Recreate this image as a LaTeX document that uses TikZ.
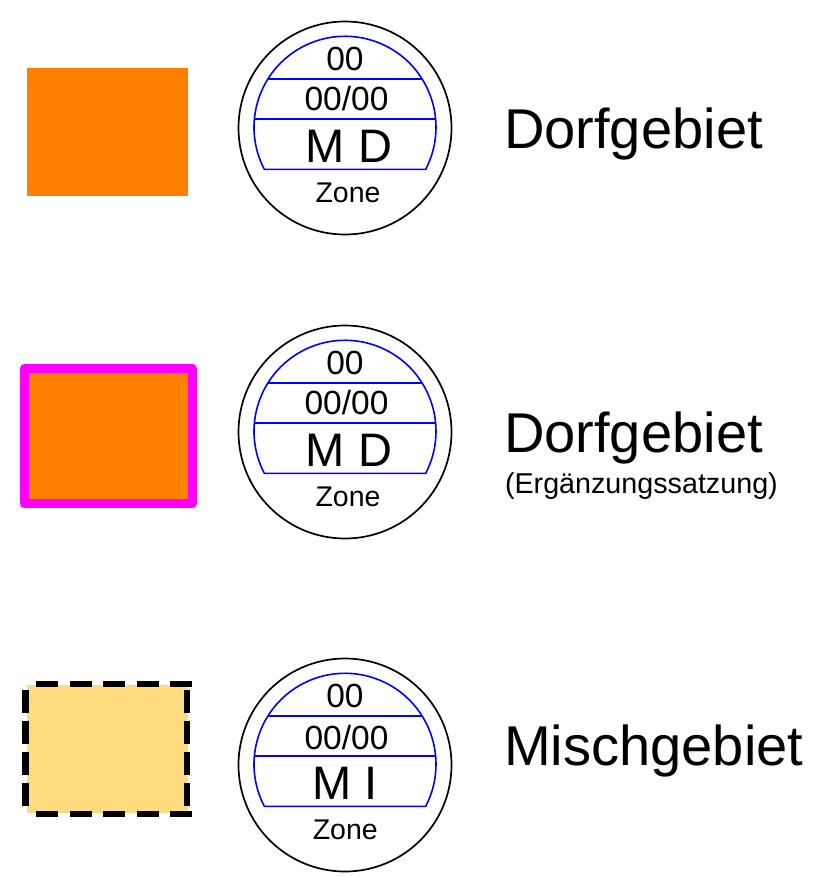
\documentclass[tikz,border=0pt]{standalone}
\usepackage{fontspec}
\setmainfont{Liberation Sans}
\definecolor{orangefill}{HTML}{FF7F00}
\definecolor{paleorange}{HTML}{FFDB7F}
\definecolor{magentaline}{HTML}{FF00FF}
\definecolor{blueline}{HTML}{0000FF}
\tikzset{
  txt/.style={inner sep=0pt,outer sep=0pt,anchor=base,text=black},
  outerring/.style={draw=black,line width=1.7pt,fill=white},
  dome/.style={draw=blueline,line width=1.6pt},
  blackdash/.style={draw=black,line width=6.5pt,dash pattern=on 22pt off 11.5pt},
  sidedash/.style={draw=black,line width=6.5pt,dash pattern=on 23pt off 8pt},
  num/.style={txt,font=\fontsize{33.5}{36}\selectfont},
  code/.style={txt,font=\fontsize{47}{50}\selectfont},
  zonetxt/.style={txt,font=\fontsize{28.5}{30}\selectfont},
  biglabel/.style={txt,anchor=base west,font=\fontsize{56.1}{60}\selectfont},
  smalllabel/.style={txt,anchor=base west,font=\fontsize{28.7}{30}\selectfont}
}
% #1 prefix, #2 y offset, #3 code text, #4 code x, #5 zone x, #6 y of 00/00
\newcommand{\stampmark}[6]{%
  \begin{scope}[shift={(0,#2)}]
    \node[circle,outerring,minimum size=213pt,inner sep=0pt] (#1ring) at (345,128) {};
    \draw[dome] (264.3,169.3) arc[start angle=152.5,end angle=387.5,radius=91] -- cycle;
    \draw[dome] (267.7,79) -- (422.3,79);
    \draw[dome] (254,119) -- (436,119);
    \node[num] (#1a) at (345,70.7) {00};
    \node[num] (#1b) at (346.5,#6) {00/00};
    \node[code] (#1m) at (#4,162.7) {#3};
    \node[zonetxt] (#1z) at (#5,202.2) {Zone};
  \end{scope}}
\begin{document}
\begin{tikzpicture}[x=1pt,y=-1pt]
\useasboundingbox[fill=white] (0,0) rectangle (828,876);
% swatches
\fill[orangefill] (27,68) rectangle (188,196);
\draw[magentaline,line width=9pt,line join=round,fill=orangefill] (24,368) rectangle (192,503.5);
\fill[paleorange] (26.7,685) rectangle (187.7,813.3);
\draw[blackdash] (36,684) -- (192,684);
\draw[blackdash] (36,814) -- (192,814);
\draw[sidedash] (25.7,690) -- (25.7,806);
\draw[sidedash] (187,690) -- (187,806);
% stamps
\stampmark{s1}{0}{M D}{349}{348}{110}
\stampmark{s2}{304}{M D}{349}{348}{110}
\stampmark{s3}{637}{M I}{345.3}{345.3}{112.3}
% labels
\node[biglabel] (l1) at (504,148) {Dorfgebiet};
\node[biglabel] (l2) at (504,452) {Dorfgebiet};
\node[smalllabel] (l2b) at (505,493) {(Ergänzungssatzung)};
\node[biglabel] (l3) at (504,765) {Mischgebiet};
\end{tikzpicture}
\end{document}
